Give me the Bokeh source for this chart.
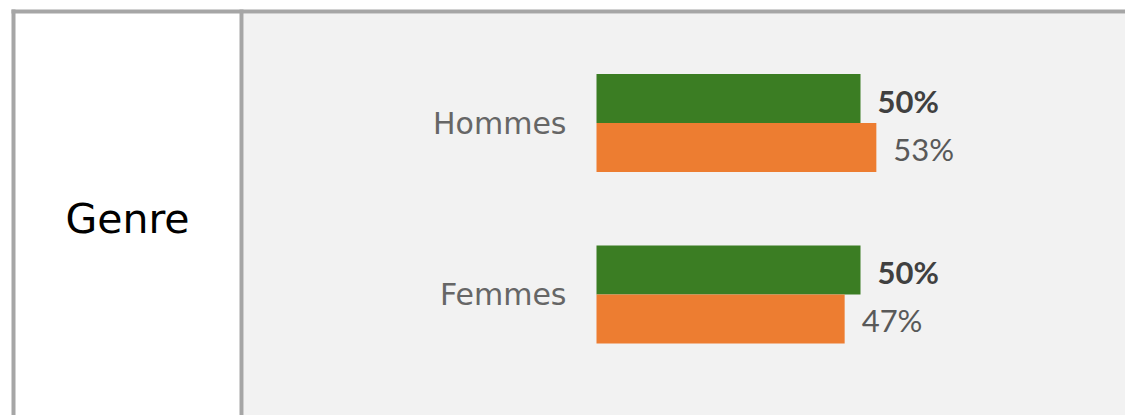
from bokeh.plotting import figure
from bokeh.models import ColumnDataSource, Range1d, BoxAnnotation
from bokeh.transform import dodge
from bokeh.core.properties import value
from bokeh.embed import file_html
from bokeh.resources import INLINE

# ---- data ----
categories = ["Hommes", "Femmes"]
serie_verte = [50, 50]
serie_orange = [53, 47]
panel_title = "Genre"

# ---- layout constants (pixels inside the figure) ----
W, H = 1125, 415
BAR_X0 = 596.0      # pixel where 0 % sits
PX_PER_PCT = 5.28
ROW0 = 122.5        # pixel centre of first category
ROW_STEP = 171.5
BAR_H = 49.0 / ROW_STEP

def xd(px):
    return (px - BAR_X0) / PX_PER_PCT

def yd(py):
    return (py - ROW0) / ROW_STEP

LABEL_FONT = "DejaVu Sans"
NUM_FONT = "Lato"
GREEN = "#3b7d23"
ORANGE = "#ed7d31"
BG = "#f2f2f2"
BORDER = "#a6a6a6"

p = figure(width=W, height=H, output_backend="svg", toolbar_location=None,
           x_range=Range1d(xd(0), xd(W)), y_range=Range1d(yd(H), yd(0)),
           min_border=0, border_fill_color="white", background_fill_color="white",
           outline_line_color=None)
p.axis.visible = False
p.grid.visible = False

# panel background and borders
p.add_layout(BoxAnnotation(left=xd(243), top=yd(13), fill_color=BG, fill_alpha=1, line_alpha=0, level="underlay"))
p.add_layout(BoxAnnotation(left=xd(11), top=yd(9), bottom=yd(13), fill_color=BORDER, fill_alpha=1, line_alpha=0))
p.add_layout(BoxAnnotation(left=xd(11), right=xd(15), top=yd(9), fill_color=BORDER, fill_alpha=1, line_alpha=0))
p.add_layout(BoxAnnotation(left=xd(239), right=xd(243), top=yd(9), fill_color=BORDER, fill_alpha=1, line_alpha=0))

src = ColumnDataSource(dict(
    y=list(range(len(categories))),
    cat=categories,
    verte=serie_verte,
    orange=serie_orange,
    lab_v=[f"{v}%" for v in serie_verte],
    lab_o=[f"{v}%" for v in serie_orange],
))

off = BAR_H / 2
p.hbar(y=dodge("y", -off, range=p.y_range), left=0, right="verte", height=BAR_H,
       source=src, fill_color=GREEN, line_color=None)
p.hbar(y=dodge("y", off, range=p.y_range), left=0, right="orange", height=BAR_H,
       source=src, fill_color=ORANGE, line_color=None)

p.text(x="verte", y=dodge("y", -off, range=p.y_range), text="lab_v", source=src,
       x_offset=17, y_offset=2, text_align="left", text_baseline="middle",
       text_font=value(NUM_FONT), text_font_size="31px", text_font_style="bold",
       text_color="#404040")
p.text(x="orange", y=dodge("y", off, range=p.y_range), text="lab_o", source=src,
       x_offset=17, y_offset=1, text_align="left", text_baseline="middle",
       text_font=value(NUM_FONT), text_font_size="31px", text_color="#595959")

p.text(x=0, y="y", text="cat", source=src, x_offset=-30, text_align="right",
       text_baseline="middle", text_font=value(LABEL_FONT), text_font_size="30px",
       text_color="#666666")

p.text(x=[xd(127)], y=[yd(218)], text=[panel_title], text_align="center",
       text_baseline="middle", text_font=value(LABEL_FONT), text_font_size="41px",
       text_color="#000000")

open("out.html", "w").write(file_html(p, INLINE))
